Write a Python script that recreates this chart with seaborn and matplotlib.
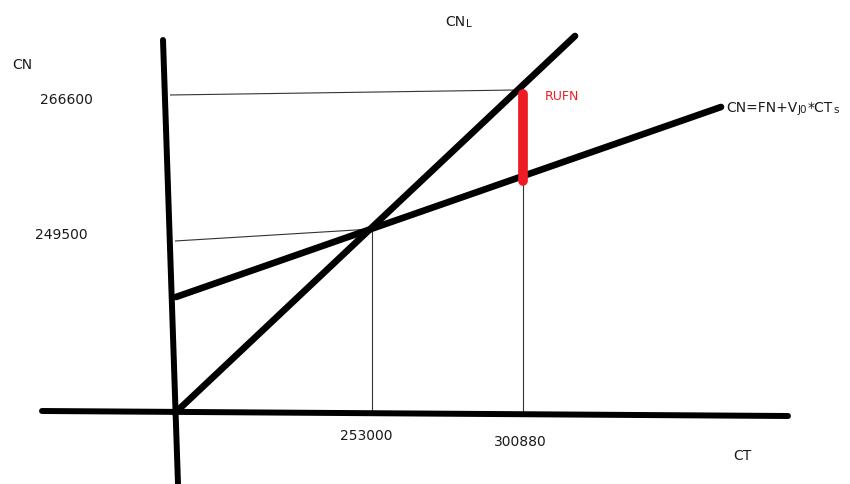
import matplotlib
matplotlib.use("Agg")
import matplotlib.pyplot as plt
import seaborn as sns
import pandas as pd

sns.set_theme(style="white")
plt.rcParams['font.family'] = ['DejaVu Sans']

# ---- data (values shown on the schematic) ----
ct_values = ["253000", "300880"]
cn_values = ["249500", "266600"]
axis_labels = ["CN", "CT"]
line_labels = ["CN", "L", "CN=FN+V", "J0", "*CT", "s"]
gap_label = "RUFN"

# ---- schematic layout (canvas pixel coordinates, y downwards) ----
W, H = 850, 484
segments = {
    "y_axis":   ([163, 178], [40, 484]),
    "x_axis":   ([42, 788], [411, 416]),
    "cnl":      ([175, 575], [413, 36]),
    "cn_fn":    ([176, 721], [297, 107]),
    "g_top_h":  ([170, 516], [95, 90]),
    "g_top_v":  ([523, 523], [183, 413]),
    "g_mid_h":  ([175, 372], [241, 229]),
    "g_mid_v":  ([372, 372], [229, 413]),
    "rufn":     ([523, 523], [94, 181]),
}
styles = {
    "y_axis": dict(color="black", lw=4.3),
    "x_axis": dict(color="black", lw=4.3),
    "cnl": dict(color="black", lw=4.8),
    "cn_fn": dict(color="black", lw=4.8),
    "g_top_h": dict(color="#333333", lw=0.8),
    "g_top_v": dict(color="#333333", lw=0.8),
    "g_mid_h": dict(color="#333333", lw=0.8),
    "g_mid_v": dict(color="#333333", lw=0.8),
    "rufn": dict(color="#ed1c24", lw=7.0),
}

fig = plt.figure(figsize=(W / 100, H / 100), dpi=100)
ax = fig.add_axes([0, 0, 1, 1])
ax.set_xlim(0, W)
ax.set_ylim(H, 0)

order = ["g_top_h", "g_top_v", "g_mid_h", "g_mid_v", "y_axis", "x_axis", "cnl", "cn_fn", "rufn"]
for name in order:
    xs, ys = segments[name]
    df = pd.DataFrame({"x": xs, "y": ys})
    st = styles[name]
    cap = "round" if st["lw"] > 2 else "butt"
    sns.lineplot(data=df, x="x", y="y", sort=False, estimator=None, errorbar=None,
                 color=st["color"], lw=st["lw"], ax=ax, solid_capstyle=cap, legend=False)
ax.set_xlim(0, W)
ax.set_ylim(H, 0)
ax.set_xlabel("")
ax.set_ylabel("")
ax.axis("off")

txt = "#1a1a1a"
fs = 10
# axis labels
ax.text(12, 65, axis_labels[0], fontsize=fs, color=txt, va="center", ha="left")
ax.text(733, 456, axis_labels[1], fontsize=fs, color=txt, va="center", ha="left")
# y values
ax.text(40, 100, cn_values[1], fontsize=fs, color=txt, va="center", ha="left")
ax.text(35, 235, cn_values[0], fontsize=fs, color=txt, va="center", ha="left")
# x values
ax.text(340, 436, ct_values[0], fontsize=fs, color=txt, va="center", ha="left")
ax.text(494, 442, ct_values[1], fontsize=fs, color=txt, va="center", ha="left")
# gap label
ax.text(545, 96, gap_label, fontsize=9, color="#ed1c24", va="center", ha="left")

fig.canvas.draw()
renderer = fig.canvas.get_renderer()
inv = ax.transData.inverted()

def chain(x, y, parts):
    cur = x
    for text, small in parts:
        size = 7.5 if small else fs
        dy = 2 if small else 0
        t = ax.text(cur, y + dy, text, fontsize=size, color=txt, va="center", ha="left")
        bb = t.get_window_extent(renderer)
        x1 = inv.transform((bb.x1, bb.y0))[0]
        cur = x1 + 0.5

chain(445, 22, [(line_labels[0], False), (line_labels[1], True)])
chain(726, 108, [(line_labels[2], False), (line_labels[3], True),
                 (line_labels[4], False), (line_labels[5], True)])

fig.savefig("out.png", dpi=100)
